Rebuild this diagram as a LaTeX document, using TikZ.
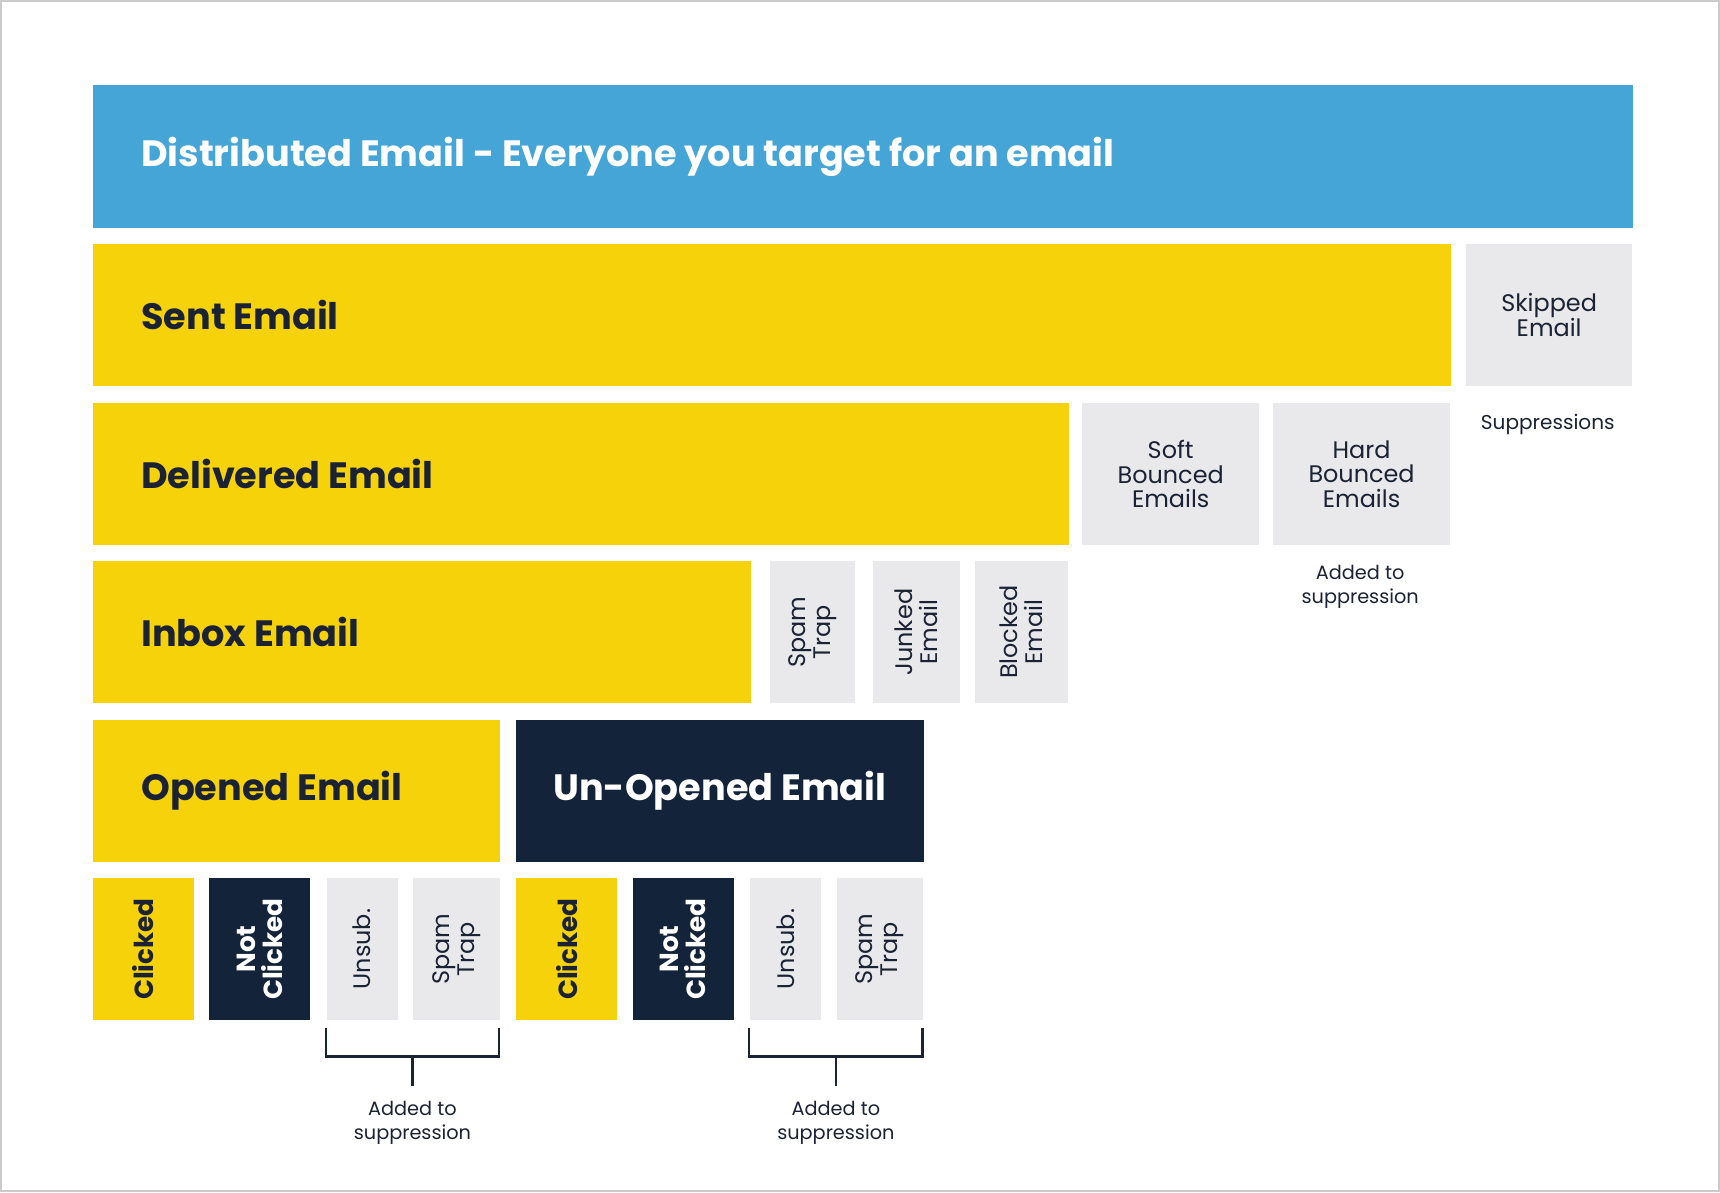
\documentclass[tikz,border=0pt]{standalone}
\usepackage{fontspec}
\setmainfont{Poppins}
\usepackage{xcolor}
\usetikzlibrary{positioning}
\definecolor{skyblue}{HTML}{45A5D6}
\definecolor{mailyellow}{HTML}{F5D20A}
\definecolor{mailnavy}{HTML}{13233A}
\definecolor{mailgray}{HTML}{E9E9EC}
\definecolor{inktext}{HTML}{1A2233}
\tikzset{
  blk/.style={anchor=north west, inner sep=0pt, draw=none},
  ybox/.style={blk, fill=mailyellow},
  nbox/.style={blk, fill=mailnavy},
  gbox/.style={blk, fill=mailgray},
  bigtxt/.style={inner sep=0pt, anchor=west, font=\fontsize{9.5}{11}\selectfont\bfseries, text=inktext},
  smalltxt/.style={inner sep=0pt, align=center, font=\fontsize{6.2}{6.4}\selectfont, text=inktext},
  vtxt/.style={smalltxt, rotate=90},
  tinytxt/.style={inner sep=0pt, align=center, font=\fontsize{5}{6.2}\selectfont, text=inktext},
}
\begin{document}
\begin{tikzpicture}[x=0.01cm, y=-0.01cm]
\useasboundingbox (0,0) rectangle (1568,1087);
\draw[black!20, line width=0.6pt] (1,1) rectangle (1567,1086);

% top rows
\node[blk, fill=skyblue, minimum width=14.03cm, minimum height=1.30cm] (dist) at (84,77) {};
\node[bigtxt, text=white, right=0.44cm of dist.west] {Distributed Email - Everyone you target for an email};

\node[ybox, minimum width=12.37cm, minimum height=1.29cm] (sent) at (84,222) {};
\node[bigtxt, right=0.44cm of sent.west] {Sent Email};
\node[gbox, minimum width=1.51cm, minimum height=1.29cm] (skip) at (1336,222) {};
\node[smalltxt] at (skip.center) {Skipped\\Email};
\node[tinytxt, font=\fontsize{5.2}{6.2}\selectfont] (supp) at (1411,387) {Suppressions};

\node[ybox, minimum width=8.89cm, minimum height=1.29cm] (deliv) at (84,367) {};
\node[bigtxt, right=0.44cm of deliv.west] {Delivered Email};
\node[gbox, minimum width=1.61cm, minimum height=1.29cm] (soft) at (986,367) {};
\node[smalltxt] at (soft.center) {Soft\\Bounced\\Emails};
\node[gbox, minimum width=1.61cm, minimum height=1.29cm] (hard) at (1160,367) {};
\node[smalltxt] at (hard.center) {Hard\\Bounced\\Emails};
\node[tinytxt] (hardsupp) at (1240,535) {Added to\\suppression};

\node[ybox, minimum width=6.00cm, minimum height=1.29cm] (inbox) at (84,511) {};
\node[bigtxt, right=0.44cm of inbox.west] {Inbox Email};
\node[gbox, minimum width=0.78cm, minimum height=1.29cm] (trap) at (701,511) {};
\node[vtxt] at (trap.center) {Spam\\Trap};
\node[gbox, minimum width=0.79cm, minimum height=1.29cm] (junk) at (795,511) {};
\node[vtxt] at (junk.center) {Junked\\Email};
\node[gbox, minimum width=0.85cm, minimum height=1.29cm] (block) at (888,511) {};
\node[vtxt] at (block.center) {Blocked\\Email};

\node[ybox, minimum width=3.71cm, minimum height=1.29cm] (opened) at (84,656) {};
\node[bigtxt, right=0.44cm of opened.west] {Opened Email};
\node[nbox, minimum width=3.71cm, minimum height=1.29cm] (unopened) at (470,656) {};
\node[bigtxt, text=white, anchor=center] at (unopened.center) {Un-Opened Email};

% bottom row, one group per parent
\foreach \x/\g in {84/a, 470/b}{
  \node[ybox, minimum width=0.92cm, minimum height=1.29cm] (click\g) at (\x,800) {};
  \node[vtxt, font=\fontsize{6.8}{7}\selectfont\bfseries] at (click\g.center) {Clicked};
  \node[nbox, minimum width=0.92cm, minimum height=1.29cm] (noclick\g) at (\x+106,800) {};
  \node[vtxt, text=white, font=\fontsize{6.8}{7}\selectfont\bfseries] at (noclick\g.center) {Not\\Clicked};
  \node[gbox, minimum width=0.65cm, minimum height=1.29cm] (unsub\g) at (\x+213,800) {};
  \node[vtxt] at (unsub\g.center) {Unsub.};
  \node[gbox, minimum width=0.79cm, minimum height=1.29cm] (strap\g) at (\x+292,800) {};
  \node[vtxt] at (strap\g.center) {Spam\\Trap};
  \coordinate (bl\g) at (\x+213,937);
  \coordinate (br\g) at (\x+371,937);
  \coordinate (bm\g) at (\x+292,990);
  \draw[inktext, line width=0.6pt] (bl\g) |- ([yshift=-0.26cm]br\g) -- (br\g)
    ([yshift=-0.26cm]bm\g |- bl\g) -- (bm\g);
  \node[tinytxt] (note\g) at (\x+292,1024) {Added to\\suppression};
}
\end{tikzpicture}
\end{document}
